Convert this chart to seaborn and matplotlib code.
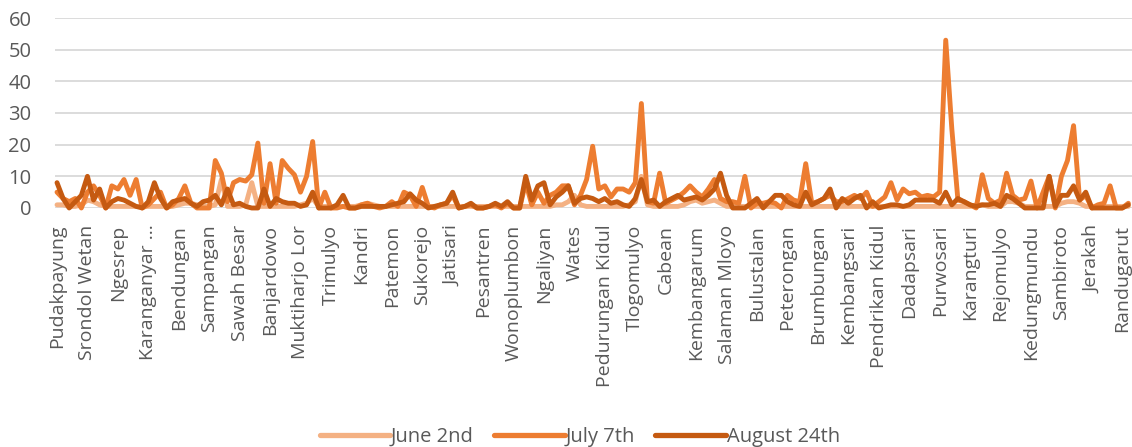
import matplotlib
matplotlib.use("Agg")
import matplotlib.pyplot as plt
import numpy as np
import pandas as pd
import seaborn as sns
from matplotlib.lines import Line2D


# tick labels shown on the x axis (every 5th village)
tick_labels = [
    "Pudakpayung", "Srondol Wetan", "Ngesrep", "Karanganyar \u2026", "Bendungan",
    "Sampangan", "Sawah Besar", "Banjardowo", "Muktiharjo Lor", "Trimulyo",
    "Kandri", "Patemon", "Sukorejo", "Jatisari", "Pesantren",
    "Wonoplumbon", "Ngaliyan", "Wates", "Pedurungan Kidul", "Tlogomulyo",
    "Cabean", "Kembangarum", "Salaman Mloyo", "Bulustalan", "Peterongan",
    "Brumbungan", "Kembangsari", "Pendrikan Kidul", "Dadapsari", "Purwosari",
    "Karangturi", "Rejomulyo", "Kedungmundu", "Sambiroto", "Jerakah",
    "Randugarut",
]
label_step = 5

series_names = ["June 2nd", "July 7th", "August 24th"]

june_2nd = [
    1, 1, 0.5, 0.5, 1, 2.5, 2, 1, 0.5, 0.5,
    0.5, 0.5, 0.5, 0.5, 0.5, 0.5, 0.5, 0.5, 0.5, 0.5,
    1, 1.5, 1.5, 1, 0.5, 0.5, 1, 9, 0.5, 0.5,
    0.5, 1, 8, 0.5, 0.5, 0.5, 0.5, 0.5, 0.5, 0.5,
    1, 1.5, 3, 0.5, 0.5, 0.5, 0.5, 0.5, 0.5, 0.5,
    1, 1.5, 1, 0.5, 0.5, 0.5, 0.5, 0.5, 0.5, 0.5,
    0.5, 0.5, 0.5, 0.5, 0.5, 0.5, 0.5, 0.5, 0.5, 0.5,
    0.5, 0.5, 0.5, 0.5, 0.5, 0.5, 0.5, 0.5, 0.5, 0.5,
    0.5, 0.5, 1, 1, 2, 4, 1, 0.5, 0.5, 0.5,
    0.5, 0.5, 0.5, 0.5, 1, 2, 10, 1, 0.5, 0.5,
    0.5, 0.5, 0.5, 1, 2, 2.5, 1.5, 2, 2.5, 1.5,
    0.5, 0.5, 0.5, 0.5, 0.5, 0.5, 0.5, 0.5, 0.5, 0.5,
    0.5, 0.5, 0.5, 0.5, 0.5, 0.5, 0.5, 0.5, 0.5, 0.5,
    0.5, 0.5, 0.5, 0.5, 0.5, 0.5, 0.5, 0.5, 0.5, 0.5,
    0.5, 0.5, 0.5, 0.5, 0.5, 0.5, 0.5, 0.5, 0.5, 0.5,
    0.5, 1, 1, 0.5, 0.5, 0.5, 2, 2, 1.5, 0.5,
    0.5, 0.5, 0.5, 0.5, 0.5, 1.5, 2, 2, 1.5, 0.5,
    0.5, 0.5, 0.5, 0.5, 0.5, 0.5, 0.5,
]

july_7th = [
    5, 3, 2, 3, 0, 5, 7, 4, 0, 7,
    6, 9, 4, 9, 0, 1, 3, 5, 0, 1,
    3, 7, 1.5, 0, 0, 0, 15, 11, 2, 8,
    9, 8.5, 10.5, 20.5, 1.5, 14, 1.5, 15, 12.5, 10.5,
    5, 10, 21, 0, 5, 0, 0, 0.5, 0, 0,
    1, 1.5, 0.5, 0, 0.5, 2, 0.5, 5, 4, 0.5,
    6.5, 0.5, 0, 1, 1.5, 4, 0, 0.5, 1, 0,
    0, 0.5, 1, 0, 1.5, 0, 0, 8, 1, 5,
    1.5, 4, 5, 7, 7, 1, 4, 9, 19.5, 6,
    7, 3.5, 6, 6, 5, 8, 33, 2, 1.5, 11,
    1.5, 2.5, 3.5, 5, 7, 5, 3.5, 6, 9, 3,
    2, 2, 1.5, 10, 0, 1.5, 1.5, 2, 1.5, 0,
    4, 2.5, 2, 14, 1.5, 2, 3, 4, 2, 2,
    3, 4, 3, 5, 0.5, 2, 3.5, 8, 2.5, 6,
    4.5, 5, 3.5, 4, 3.5, 5, 53, 25, 2.5, 2,
    1, 0, 10.5, 3, 1.5, 2.5, 11, 4, 2.5, 3,
    8.5, 0, 5, 10, 0, 10, 15, 26, 2.5, 4,
    0, 1, 1.5, 7, 0, 0, 1.5,
]

august_24th = [
    8, 3, 0, 2, 4, 10, 2.5, 6, 0, 2,
    3, 2.5, 1.5, 0.5, 0, 2, 8, 3, 0, 2,
    2.5, 3, 1.5, 0.5, 2, 2.5, 4, 1, 6, 1,
    1.5, 0.5, 0, 0, 6, 0.5, 3, 2, 1.5, 1.5,
    0.5, 1, 5, 0, 0, 0, 1, 4, 0, 0,
    0.5, 0.5, 0.5, 0.5, 0.5, 1, 1.5, 2, 4.5, 2.5,
    1.5, 0, 0.5, 1, 1.5, 5, 0, 0.5, 1.5, 0,
    0, 0.5, 1.5, 0.5, 2, 0, 0, 10, 2.5, 7,
    8, 1, 3.5, 5, 7, 1.5, 3, 3.5, 3, 2,
    3, 1.5, 2, 1, 0.5, 3, 9, 2, 2.5, 0.5,
    2, 3, 4, 2.5, 3, 3.5, 2.5, 4, 6, 11,
    4, 0, 0, 0, 1.5, 3, 0, 2, 4, 4,
    2, 1, 0.5, 5, 1, 2, 3, 6, 0, 3,
    1.5, 3, 4, 0, 2, 0, 0.5, 1, 1, 0.5,
    1, 2.5, 2.5, 2.5, 2.5, 1.5, 5, 1, 3, 2,
    1, 0.5, 1, 1, 1.5, 0.5, 4, 3, 1.5, 0,
    0, 0, 0, 10, 0.5, 4, 4, 7, 2.5, 5,
    0, 0, 0, 0, 0, 0, 1,
]

colors = ["#F4B183", "#ED7D31", "#C55A11"]
text_color = "#595959"

n_points = len(july_7th)
frames = []
for name, values in zip(series_names, [june_2nd, july_7th, august_24th]):
    frames.append(pd.DataFrame({
        "idx": np.arange(n_points),
        "cases": values,
        "date": name,
    }))
df = pd.concat(frames, ignore_index=True)

sns.set_theme(style="white")
plt.rcParams["font.family"] = ["Open Sans", "DejaVu Sans"]

W, H = 1132, 447
fig = plt.figure(figsize=(W / 100, H / 100), dpi=100)
left_px, right_px, top_px, bottom_px = 55, 1132, 18, 208
ax = fig.add_axes([left_px / W, 1 - bottom_px / H,
                   (right_px - left_px) / W, (bottom_px - top_px) / H])

sns.lineplot(data=df, x="idx", y="cases", hue="date", hue_order=series_names,
             palette=colors, linewidth=3.5, sort=False, legend=False,
             ax=ax, clip_on=False, solid_joinstyle="round",
             solid_capstyle="round")

ax.set_xlim(-0.33, 176.6)
ax.set_ylim(0, 60)
ax.set_yticks(range(0, 61, 10))
ax.set_xticks(range(0, n_points, label_step))
ax.set_xticklabels(tick_labels, rotation=90, fontsize=14, color=text_color)
ax.tick_params(axis="y", labelsize=14.5, labelcolor=text_color, length=0, pad=17)
ax.tick_params(axis="x", length=0, pad=12)
ax.set_xlabel("")
ax.set_ylabel("")
ax.yaxis.grid(True, color="#D9D9D9", linewidth=1.3)
ax.xaxis.grid(False)
ax.set_axisbelow(True)
for spine in ax.spines.values():
    spine.set_visible(False)

handles = [Line2D([0], [0], color=c, linewidth=3.8, solid_capstyle="round") for c in colors]
fig.legend(handles, series_names, loc="center", bbox_to_anchor=(0.512, 0.022),
           ncol=3, frameon=False, fontsize=14.5, handlelength=3.5,
           handletextpad=0.05, columnspacing=1.0, labelcolor=text_color)

fig.savefig("out.png", dpi=100)
